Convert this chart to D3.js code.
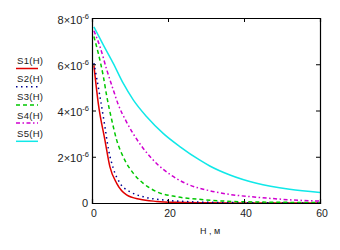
<!DOCTYPE html>
<html>
<head>
<meta charset="utf-8">
<script src="https://cdn.jsdelivr.net/npm/d3@7"></script>
<style>
    body { margin: 0; background: #fff; }
    text { font-family: Arial, "Liberation Sans", sans-serif; fill: #222; }
</style>
</head>
<body>
<div id="chart"></div>
<script>
// Chart params
const width = 340;
const height = 250;
const margin = { left: 92, right: 20, top: 18, bottom: 47 };

// Data (values in units of 1e-6)
const h1 = [0.5, 1.66, 3.4, 4.7, 6.5, 9.1, 12.6, 17, 22, 30, 40, 60];
const s1 = [5.95, 4.3, 2.72, 1.57, 0.85, 0.35, 0.16, 0.07, 0.03, 0.01, 0, 0];

const h2 = [0.5, 2.1, 3.4, 4.3, 5.6, 7.4, 10, 13.5, 18.8, 25, 35, 60];
const s2 = [6.05, 4.6, 3.3, 2.35, 1.5, 0.85, 0.49, 0.27, 0.13, 0.06, 0.02, 0];

const h3 = [0.5, 1.66, 3, 3.9, 5.2, 6.5, 8.2, 10.9, 13.5, 17, 22.3, 27.5, 35, 45, 60];
const s3 = [7.2, 6.47, 5.46, 4.6, 3.59, 2.72, 2.0, 1.28, 0.85, 0.49, 0.27, 0.17, 0.08, 0.04, 0.02];

const h4 = [0.5, 2.1, 3.9, 5.6, 6.9, 9.1, 10.9, 13.5, 17, 20.5, 24.9, 31, 36.3, 43.3, 52, 60];
const s4 = [7.45, 6.76, 5.75, 4.89, 4.26, 3.5, 2.98, 2.36, 1.71, 1.24, 0.83, 0.53, 0.37, 0.25, 0.14, 0.08];

const h5 = [0.5, 3, 5.6, 8.2, 10.9, 14.4, 18.8, 23.2, 28.4, 31, 36.3, 43.3, 52, 60];
const s5 = [7.62, 6.83, 6.04, 5.18, 4.45, 3.73, 3.0, 2.43, 1.85, 1.6, 1.21, 0.85, 0.59, 0.45];

const seriesNames = ['S1(H)', 'S2(H)', 'S3(H)', 'S4(H)', 'S5(H)'];
const xTicks = [0, 20, 40, 60];
const yTicks = [0, 2, 4, 6, 8];

const series = [
    { name: seriesNames[0], h: h1, v: s1, color: '#e00000', dash: null },
    { name: seriesNames[1], h: h2, v: s2, color: '#000090', dash: '1.5,3.5' },
    { name: seriesNames[2], h: h3, v: s3, color: '#00c800', dash: '4,3' },
    { name: seriesNames[3], h: h4, v: s4, color: '#d000d0', dash: '4,2.5,1.5,2.5' },
    { name: seriesNames[4], h: h5, v: s5, color: '#10e8e8', dash: null }
];

const svg = d3.select('#chart')
    .append('svg')
    .attr('width', width)
    .attr('height', height);

const x = d3.scaleLinear().domain([0, 60]).range([margin.left, width - margin.right]);
const y = d3.scaleLinear().domain([0, 8]).range([height - margin.bottom, margin.top]);

// Lines
const line = d3.line()
    .x(d => x(d[0]))
    .y(d => y(d[1]))
    .curve(d3.curveMonotoneX);

svg.append('g')
    .selectAll('path')
    .data(series)
    .enter()
    .append('path')
    .attr('d', d => line(d.h.map((hv, i) => [hv, d.v[i]])))
    .attr('fill', 'none')
    .attr('stroke', d => d.color)
    .attr('stroke-width', 1.5)
    .attr('stroke-dasharray', d => d.dash);

// Axes with inward ticks on all sides
const tick = 4;
svg.append('g').attr('transform', `translate(0,${y(0)})`)
    .call(d3.axisBottom(x).tickValues(xTicks).tickSize(-tick).tickFormat(''));
svg.append('g').attr('transform', `translate(0,${y(8)})`)
    .call(d3.axisTop(x).tickValues(xTicks).tickSize(-tick).tickFormat(''));
svg.append('g').attr('transform', `translate(${x(0)},0)`)
    .call(d3.axisLeft(y).tickValues(yTicks).tickSize(-tick).tickFormat(''));
svg.append('g').attr('transform', `translate(${x(60)},0)`)
    .call(d3.axisRight(y).tickValues(yTicks).tickSize(-tick).tickFormat(''));

svg.selectAll('.domain').attr('stroke', '#000').attr('stroke-width', 1.2);
svg.selectAll('.tick line').attr('stroke', '#000');

// X tick labels
svg.append('g')
    .selectAll('text')
    .data(xTicks)
    .enter()
    .append('text')
    .attr('x', d => x(d) + 2)
    .attr('y', 217)
    .attr('text-anchor', 'middle')
    .attr('font-size', 10.5)
    .text(d => d);

// Y tick labels with superscript exponent
const yl = svg.append('g')
    .selectAll('text')
    .data(yTicks)
    .enter()
    .append('text')
    .attr('x', 89)
    .attr('y', d => y(d) + 5.5)
    .attr('text-anchor', 'end')
    .attr('font-size', 11);

yl.filter(d => d === 0).text('0').attr('x', 88).attr('y', y(0) + 4);
yl.filter(d => d !== 0).each(function (d) {
    const t = d3.select(this);
    t.append('tspan').text(d + '×10');
    t.append('tspan').attr('dy', -5).attr('font-size', 7.5).text('-6');
});

// Axis title
svg.append('text')
    .attr('x', 210)
    .attr('y', 234)
    .attr('text-anchor', 'middle')
    .attr('font-size', 9)
    .text('H , м');

// Legend
const lg = svg.append('g')
    .selectAll('g')
    .data(series)
    .enter()
    .append('g')
    .attr('transform', (d, i) => `translate(0,${64 + i * 18.2})`);

lg.append('text')
    .attr('x', 17)
    .attr('y', 0)
    .attr('font-size', 9.5)
    .attr('letter-spacing', 0.3)
    .text(d => d.name);

lg.append('line')
    .attr('x1', 16)
    .attr('x2', 38)
    .attr('y1', 4.5)
    .attr('y2', 4.5)
    .attr('stroke', d => d.color)
    .attr('stroke-width', 1.5)
    .attr('stroke-dasharray', d => d.dash);
</script>
</body>
</html>
